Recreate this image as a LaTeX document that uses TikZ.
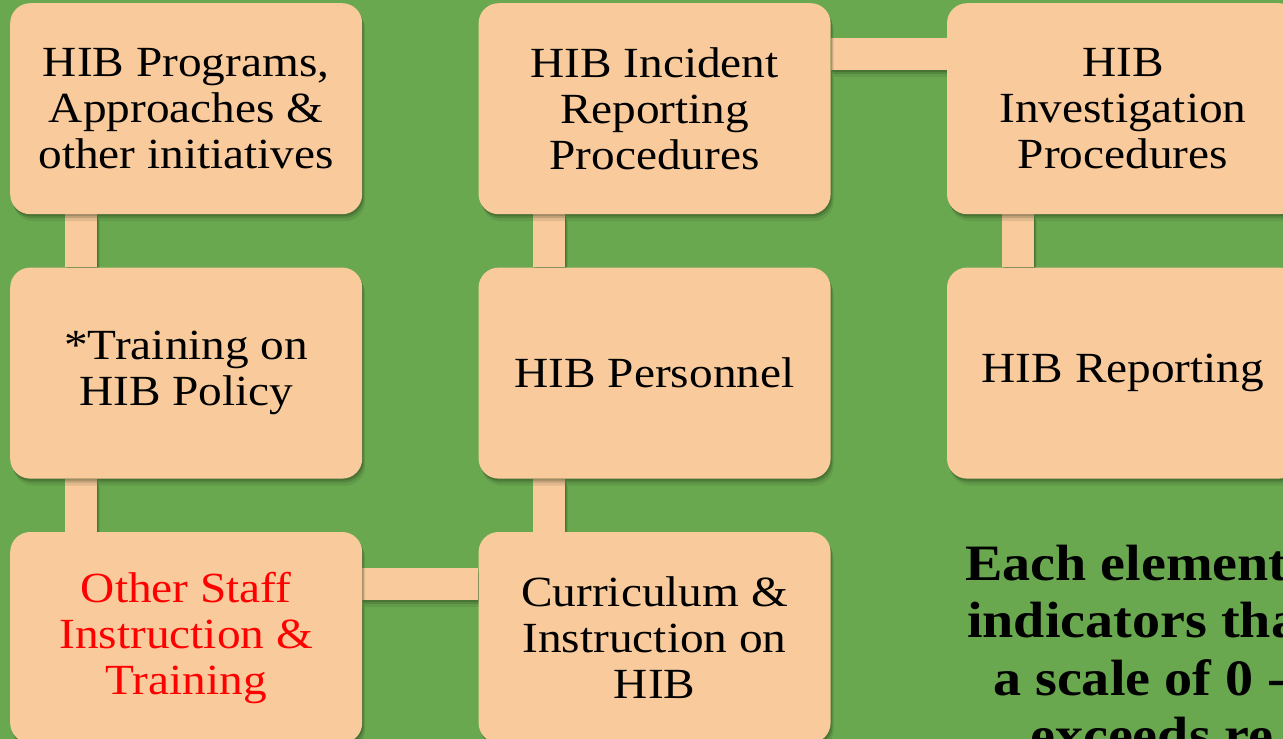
\documentclass[tikz,border=0pt]{standalone}
\usepackage{fontspec}
\setmainfont[FakeStretch=1.1]{Liberation Serif}
\usetikzlibrary{positioning,shadows}
\definecolor{hibgreen}{HTML}{6AA84F}
\definecolor{hibpeach}{HTML}{F9CB9C}
\pgfdeclarelayer{bg}
\pgfdeclarelayer{links}
\pgfsetlayers{bg,links,main}
\tikzset{
    softshadow/.style={
        drop shadow={shadow xshift=1pt, shadow yshift=-2pt, opacity=0.2, fill=black!80!hibgreen},
        drop shadow={shadow xshift=2pt, shadow yshift=-4pt, opacity=0.15, fill=black!80!hibgreen},
        drop shadow={shadow xshift=3pt, shadow yshift=-7pt, opacity=0.1, fill=black!80!hibgreen}},
    elem/.style={rectangle, rounded corners=20pt, fill=hibpeach, minimum width=352pt, minimum height=211pt,
        inner sep=0pt, align=center, font=\fontsize{43}{46}\selectfont, softshadow},
    link/.style={fill=hibpeach, softshadow},
    note/.style={anchor=base west, inner sep=0pt, font=\fontsize{51}{57}\selectfont\bfseries}
}
\begin{document}
\begin{tikzpicture}[x=1pt, y=-1pt, node distance=53pt and 116pt]
    \clip (0,0) rectangle (1283,739);
    \begin{pgfonlayer}{bg}
        \fill[hibgreen] (0,0) rectangle (1283,739);
    \end{pgfonlayer}
    % first row
    \node[elem, anchor=north west] (prog) at (10,3) {HIB Programs,\\ Approaches \&\\ other initiatives};
    \node[elem, right=of prog] (incid) {HIB Incident\\ Reporting\\ Procedures};
    \node[elem, right=of incid] (invest) {HIB\\ Investigation\\ Procedures};
    % second row
    \node[elem, below=of prog] (train) {*Training on\\ HIB Policy};
    \node[elem, below=of incid] (pers) {HIB Personnel};
    \node[elem, below=of invest] (report) {HIB Reporting};
    % third row
    \node[elem, below=of train, text=red] (staff) {Other Staff\\ Instruction \&\\ Training};
    \node[elem, below=of pers] (curric) {Curriculum \&\\ Instruction on\\ HIB};
    % links
    \begin{pgfonlayer}{links}
        \path[link] ([xshift=55pt]prog.south west) rectangle ([xshift=87pt]train.north west);
        \path[link] ([xshift=55pt]train.south west) rectangle ([xshift=87pt]staff.north west);
        \path[link] ([xshift=55pt]incid.south west) rectangle ([xshift=87pt]pers.north west);
        \path[link] ([xshift=55pt]pers.south west) rectangle ([xshift=87pt]curric.north west);
        \path[link] ([xshift=55pt]invest.south west) rectangle ([xshift=87pt]report.north west);
        \path[link] ([yshift=-35pt]incid.north east) rectangle ([yshift=-67pt]invest.north west);
        \path[link] ([yshift=-36pt]staff.north east) rectangle ([yshift=-68pt]curric.north west);
    \end{pgfonlayer}
    % note on the right
    \foreach \txt/\xpos/\ypos [count=\i] in {Each element/965/580, indicators tha/967/637, a scale of 0 -/993/695, exceeds re/1030/752}
        \node[note] (note\i) at (\xpos,\ypos) {\txt};
\end{tikzpicture}
\end{document}
